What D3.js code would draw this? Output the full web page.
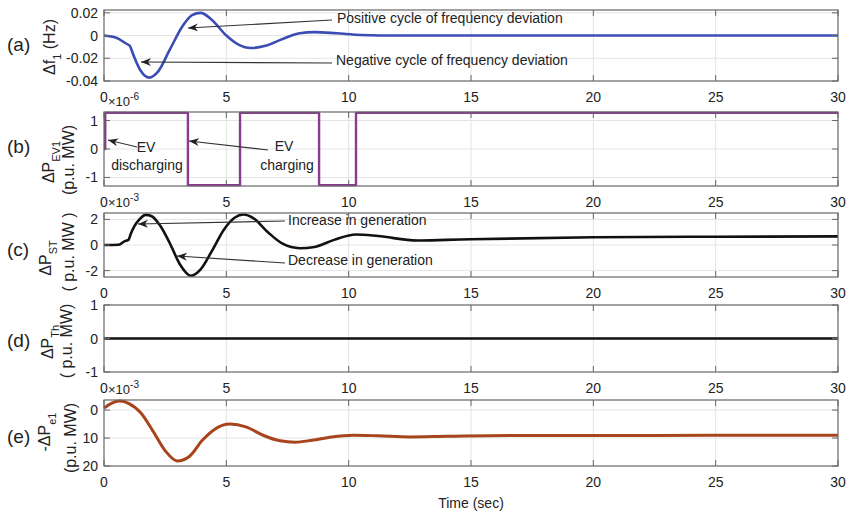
<!DOCTYPE html>
<html>
<head>
<meta charset="utf-8">
<script src="https://cdn.jsdelivr.net/npm/d3@7"></script>
<style>
  body { margin: 0; background: #fff; }
  text { font-family: "Liberation Sans", Arial, sans-serif; fill: #222; }
</style>
</head>
<body>
<script>
// ---------------- DATA ----------------
const xTicks = [0, 5, 10, 15, 20, 25, 30];

// (a) frequency deviation (Hz)
const timeA = [0, 0.5, 0.9, 1.05, 1.2, 1.5, 1.85, 2.2, 2.7, 3.2, 3.6, 3.95, 4.4, 5.0, 5.5, 6.0, 6.6, 7.3, 8.0, 8.6, 9.5, 10.5, 12, 15, 20, 25, 30];
const freqDev = [0, -0.002, -0.007, -0.009, -0.017, -0.031, -0.037, -0.032, -0.012, 0.008, 0.018, 0.02, 0.014, 0.0, -0.008, -0.011, -0.009, -0.003, 0.002, 0.003, 0.002, 0.0005, 0, 0, 0, 0, 0];
const yTicksA = [-0.04, -0.02, 0, 0.02];
const yTickLabelsA = ["-0.04", "-0.02", "0", "0.02"];

// (b) EV1 power (x1e-6 p.u. MW), piecewise constant (value holds until next time)
const timeB = [0, 0.05, 3.43, 5.56, 8.79, 10.3, 30];
const evPower = [0, 1.27, -1.27, 1.27, -1.27, 1.27, 1.27];
const yTicksB = [-1, 0, 1];
const yTickLabelsB = ["-1", "0", "1"];

// (c) steam turbine generation (x1e-3 p.u. MW)
const timeC = [0, 0.6, 0.85, 1.0, 1.1, 1.25, 1.45, 1.7, 1.95, 2.3, 2.7, 3.1, 3.55, 3.95, 4.4, 4.9, 5.35, 5.7, 6.1, 6.7, 7.3, 8.0, 8.6, 9.4, 10.3, 11.2, 12.8, 14, 15, 20, 25, 30];
const stPower = [0, 0.02, 0.3, 0.4, 0.9, 1.5, 2.0, 2.35, 2.25, 1.5, 0.1, -1.5, -2.4, -1.9, -0.5, 1.2, 2.15, 2.38, 2.1, 1.0, 0.1, -0.25, -0.15, 0.4, 0.82, 0.7, 0.35, 0.4, 0.45, 0.6, 0.65, 0.67];
const yTicksC = [-2, 0, 2];
const yTickLabelsC = ["-2", "0", "2"];

// (d) thermal generation (p.u. MW)
const timeD = [0, 30];
const thPower = [0, 0];
const yTicksD = [-1, 0, 1];
const yTickLabelsD = ["-1", "0", "1"];

// (e) -ΔPe1 (x1e-3 p.u. MW), axis increasing downward
const timeE = [0, 0.3, 0.65, 1.0, 1.5, 2.0, 2.5, 3.0, 3.5, 4.0, 4.5, 5.15, 5.8, 6.5, 7.2, 7.8, 8.5, 9.3, 10.2, 11.2, 12.5, 14, 17, 20, 25, 30];
const tiePower = [-0.7, -2.4, -3.2, -2.4, 1.0, 7.5, 14.5, 18.2, 16.5, 11.0, 7.0, 5.0, 6.0, 9.0, 11.0, 11.5, 10.8, 9.6, 9.0, 9.2, 9.6, 9.4, 9.1, 9.1, 9.0, 9.0];
const yTicksE = [0, 10, 20];
const yTickLabelsE = ["0", "10", "20"];

// ---------------- LAYOUT ----------------
const W = 851, H = 516;
const left = 104, right = 838;
const svg = d3.select("body").append("svg").attr("width", W).attr("height", H);

const defs = svg.append("defs");
defs.append("marker")
  .attr("id", "arrow").attr("viewBox", "-10 -5 12 10")
  .attr("refX", 0).attr("refY", 0)
  .attr("markerUnits", "userSpaceOnUse")
  .attr("markerWidth", 12).attr("markerHeight", 10)
  .attr("orient", "auto")
  .append("path").attr("d", "M0,0 L-10,-4 L-7,0 L-10,4 Z").attr("fill", "#222");

const x = d3.scaleLinear().domain([0, 30]).range([left, right]);

const panels = [
  { label: "(a)", top: 10, bottom: 81, domain: [-0.04, 0.0225], reverse: false,
    ticks: yTicksA, tickLabels: yTickLabelsA, t: timeA, v: freqDev, color: "#3b4cb4", width: 2.6,
    curve: d3.curveMonotoneX, exp: null, labelCy: 44 },
  { label: "(b)", top: 112, bottom: 186, domain: [-1.3, 1.3], reverse: false,
    ticks: yTicksB, tickLabels: yTickLabelsB, t: timeB, v: evPower, color: "#8a3a8f", width: 2.4,
    curve: d3.curveStepAfter, exp: "-6", labelCy: 146 },
  { label: "(c)", top: 213, bottom: 277, domain: [-2.5, 2.5], reverse: false,
    ticks: yTicksC, tickLabels: yTickLabelsC, t: timeC, v: stPower, color: "#111", width: 2.6,
    curve: d3.curveMonotoneX, exp: "-3", labelCy: 249 },
  { label: "(d)", top: 305, bottom: 372, domain: [-1, 1], reverse: false,
    ticks: yTicksD, tickLabels: yTickLabelsD, t: timeD, v: thPower, color: "#111", width: 2.6,
    curve: d3.curveLinear, exp: null, labelCy: 340 },
  { label: "(e)", top: 400, bottom: 466, domain: [-3.6, 20], reverse: true,
    ticks: yTicksE, tickLabels: yTickLabelsE, t: timeE, v: tiePower, color: "#a8441c", width: 3,
    curve: d3.curveMonotoneX, exp: "-3", labelCy: 436 }
];

panels.forEach(p => {
  const y = d3.scaleLinear().domain(p.domain)
    .range(p.reverse ? [p.top, p.bottom] : [p.bottom, p.top]);
  const g = svg.append("g");

  // grid
  xTicks.slice(1, -1).forEach(tv => {
    g.append("line").attr("x1", x(tv)).attr("x2", x(tv)).attr("y1", p.top).attr("y2", p.bottom)
      .attr("stroke", "#e4e4e4").attr("stroke-width", 1);
  });
  p.ticks.forEach(tv => {
    const yy = y(tv);
    if (yy > p.top + 1 && yy < p.bottom - 1)
      g.append("line").attr("x1", left).attr("x2", right).attr("y1", yy).attr("y2", yy)
        .attr("stroke", "#e4e4e4").attr("stroke-width", 1);
  });

  // data line
  const line = d3.line().x((d, i) => x(p.t[i])).y(d => y(d)).curve(p.curve);
  g.append("path").datum(p.v).attr("d", line)
    .attr("fill", "none").attr("stroke", p.color).attr("stroke-width", p.width)
    .attr("stroke-linejoin", "round");

  // box
  g.append("rect").attr("x", left).attr("y", p.top).attr("width", right - left).attr("height", p.bottom - p.top)
    .attr("fill", "none").attr("stroke", "#666").attr("stroke-width", 1.2);

  // x ticks (inward, top and bottom)
  xTicks.forEach(tv => {
    g.append("line").attr("x1", x(tv)).attr("x2", x(tv)).attr("y1", p.bottom).attr("y2", p.bottom - 6)
      .attr("stroke", "#666");
    g.append("line").attr("x1", x(tv)).attr("x2", x(tv)).attr("y1", p.top).attr("y2", p.top + 6)
      .attr("stroke", "#666");
    g.append("text").attr("x", x(tv)).attr("y", p.bottom + 21).attr("text-anchor", "middle")
      .attr("font-size", 14).text(tv);
  });
  // y ticks
  p.ticks.forEach((tv, i) => {
    const yy = y(tv);
    g.append("line").attr("x1", left).attr("x2", left + 6).attr("y1", yy).attr("y2", yy).attr("stroke", "#666");
    g.append("line").attr("x1", right).attr("x2", right - 6).attr("y1", yy).attr("y2", yy).attr("stroke", "#666");
    g.append("text").attr("x", left - 6).attr("y", yy + 5).attr("text-anchor", "end")
      .attr("font-size", 14).text(p.tickLabels[i]);
  });

  // exponent
  if (p.exp) {
    const t = g.append("text").attr("x", left + 4).attr("y", p.top - 6).attr("font-size", 13);
    t.append("tspan").text("×10");
    t.append("tspan").attr("font-size", 10).attr("dy", -6).text(p.exp);
  }

  // panel letter
  g.append("text").attr("x", 7).attr("y", p.labelCy + 7).attr("font-size", 19).text(p.label);
});

// y axis labels (rotated)
function rotText(xx, cy, parts, size) {
  const t = svg.append("text").attr("transform", `translate(${xx},${cy}) rotate(-90)`)
    .attr("text-anchor", "middle").attr("font-size", size);
  parts.forEach(pt => {
    const s = t.append("tspan").text(pt.s);
    if (pt.dy) s.attr("dy", pt.dy);
    if (pt.fs) s.attr("font-size", pt.fs);
  });
  return t;
}
rotText(55, 47, [{ s: "Δf" }, { s: "1", fs: 11, dy: 6 }, { s: " (Hz)", dy: -6 }], 16);

rotText(54, 162, [{ s: "ΔP" }, { s: "EV1", fs: 11, dy: 6 }], 16);
rotText(74, 160, [{ s: "(p.u. MW)" }], 16);

rotText(51, 258, [{ s: "ΔP" }, { s: "ST", fs: 11, dy: 6 }], 16);
rotText(74, 252, [{ s: "( p.u. MW )" }], 16);

rotText(53, 342, [{ s: "ΔP" }, { s: "Th", fs: 11, dy: 6 }], 16);
rotText(72, 341, [{ s: "( p.u. MW)" }], 16);

rotText(50, 432, [{ s: "-ΔP" }, { s: "e1", fs: 11, dy: 6 }], 16);
rotText(76, 438, [{ s: "(p.u. MW)" }], 16);

// x axis title
svg.append("text").attr("x", 471).attr("y", 508).attr("text-anchor", "middle").attr("font-size", 14).text("Time (sec)");

// annotations
function arrow(x1, y1, x2, y2) {
  svg.append("line").attr("x1", x1).attr("y1", y1).attr("x2", x2).attr("y2", y2)
    .attr("stroke", "#333").attr("stroke-width", 1.1).attr("marker-end", "url(#arrow)");
}
function note(xx, yy, s, anchor) {
  svg.append("text").attr("x", xx).attr("y", yy).attr("font-size", 14)
    .attr("text-anchor", anchor || "start").text(s);
}
note(337, 23, "Positive cycle of frequency deviation");
arrow(332, 20, 188, 28);
note(336, 65, "Negative cycle of frequency deviation");
arrow(332, 63, 141, 62);

note(146, 152, "EV", "middle");
note(147, 170, "discharging", "middle");
arrow(137, 147, 108, 140);
note(284, 151, "EV", "middle");
note(287, 170, "charging", "middle");
arrow(268, 150, 189, 141);

note(288, 225, "Increase in generation");
arrow(285, 221, 138, 224);
note(288, 265, "Decrease in generation");
arrow(285, 263, 177, 256);
</script>
</body>
</html>
